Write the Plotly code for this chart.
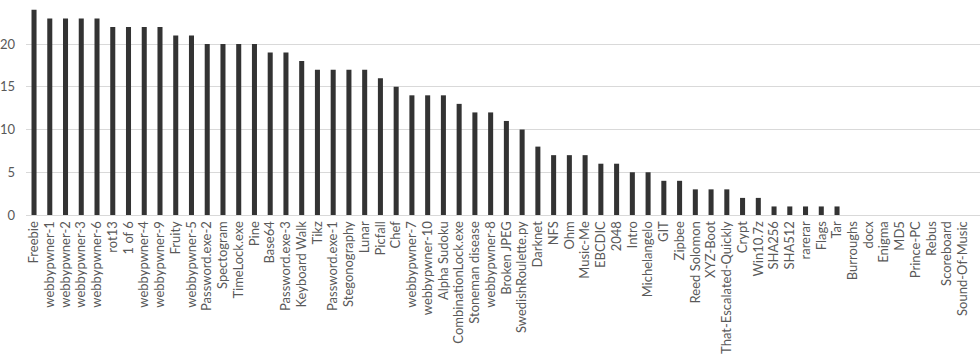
import plotly.graph_objects as go

categories = ["Freebie", "webbypwner-1", "webbypwner-2", "webbypwner-3", "webbypwner-6",
              "rot13", "1 of 6", "webbypwner-4", "webbypwner-9", "Fruity", "webbypwner-5",
              "Password.exe-2", "Spectogram", "TimeLock.exe", "Pine", "Base64",
              "Password.exe-3", "Keyboard Walk", "Tikz", "Password.exe-1", "Stegonography",
              "Lunar", "Picfall", "Chef", "webbypwner-7", "webbypwner-10", "Alpha Sudoku",
              "CombinationLock.exe", "Stoneman disease", "webbypwner-8", "Broken JPEG",
              "SwedishRoulette.py", "Darknet", "NFS", "Ohm", "Music-Me", "EBCDIC", "2048",
              "Intro", "Michelangelo", "GIT", "Zipbee", "Reed Solomon", "XYZ-Boot",
              "That-Escalated-Quickly", "Crypt", "Win10.7z", "SHA256", "SHA512", "rarerar",
              "Flags", "Tar", "Burroughs", "docx", "Enigma", "MD5", "Prince-PC", "Rebus",
              "Scoreboard", "Sound-Of-Music"]
values = [24, 23, 23, 23, 23, 22, 22, 22, 22, 21, 21, 20, 20, 20, 20, 19, 19, 18, 17, 17,
          17, 17, 16, 15, 14, 14, 14, 13, 12, 12, 11, 10, 8, 7, 7, 7, 6, 6, 5, 5,
          4, 4, 3, 3, 3, 2, 2, 1, 1, 1, 1, 1, 0, 0, 0, 0, 0, 0, 0, 0]
y_ticks = [0, 5, 10, 15, 20]

fig = go.Figure(go.Bar(x=categories, y=values, marker=dict(color="#333333", line=dict(width=0))))

fig.update_layout(
    width=980, height=357,
    margin=dict(l=26, r=0, t=0, b=142, autoexpand=False),
    plot_bgcolor="white", paper_bgcolor="white",
    bargap=0.68,
    showlegend=False,
    font=dict(family="Lato, 'Open Sans', sans-serif", size=12, color="#595959"),
)
fig.update_xaxes(tickangle=-90, showgrid=False, ticks="", showline=True, automargin=False,
                 range=[-0.51, 60.08], tickmode="array", tickvals=categories,
                 ticktext=categories,
                 linecolor="#d9d9d9", linewidth=1, tickfont=dict(size=13, color="#595959"))
fig.update_yaxes(range=[0, 25.15], tickvals=y_ticks, showgrid=True, gridcolor="#d9d9d9",
                 gridwidth=1, zeroline=False, ticks="", ticklabelstandoff=10, automargin=False,
                 tickfont=dict(size=13, color="#595959"))

fig.write_html("out.html", config={"displayModeBar": False},
               post_script="document.body.style.margin='0px';document.body.style.overflow='hidden';")
